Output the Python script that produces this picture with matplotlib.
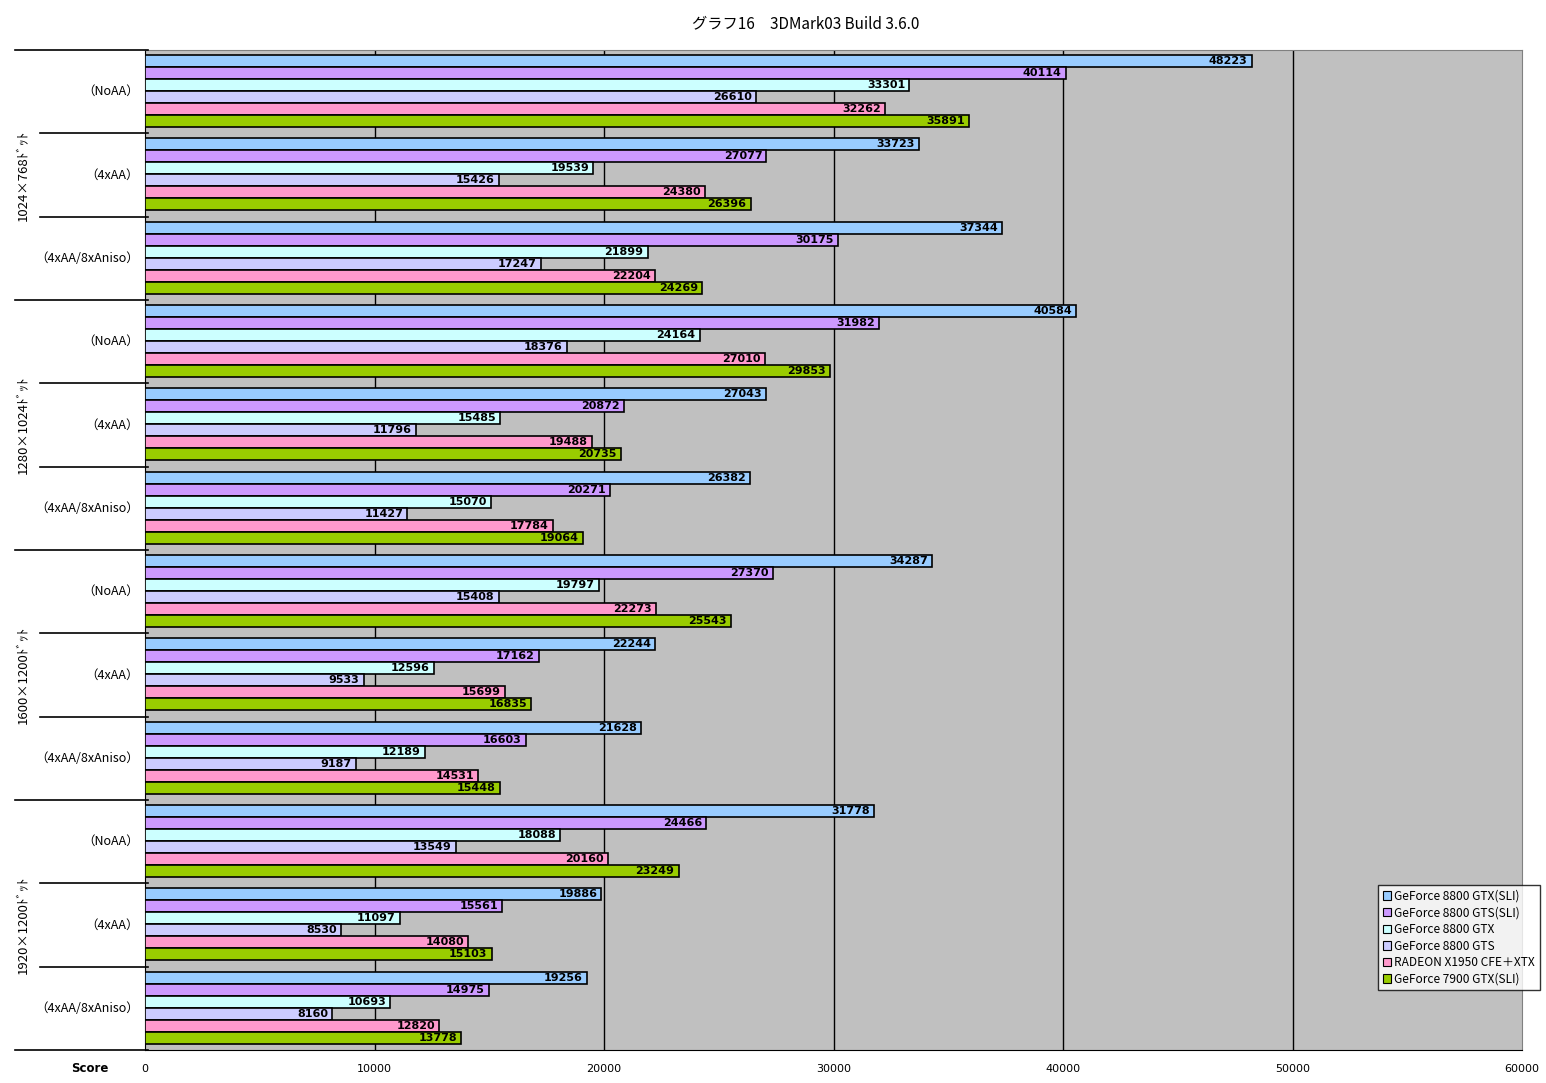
import matplotlib
matplotlib.use("Agg")
import matplotlib.pyplot as plt
import matplotlib.transforms as mtransforms
from matplotlib.patches import Patch

plt.rcParams['font.family'] = ['Noto Sans CJK JP', 'DejaVu Sans']

title = "グラフ16　3DMark03 Build 3.6.0"
resolutions = ["1024×768ﾄﾞｯﾄ", "1280×1024ﾄﾞｯﾄ", "1600×1200ﾄﾞｯﾄ", "1920×1200ﾄﾞｯﾄ"]
settings = ["（NoAA）", "（4xAA）", "（4xAA/8xAniso）"]
series = ["GeForce 8800 GTX(SLI)", "GeForce 8800 GTS(SLI)", "GeForce 8800 GTX",
          "GeForce 8800 GTS", "RADEON X1950 CFE＋XTX", "GeForce 7900 GTX(SLI)"]
colors = ["#99CCFF", "#CC99FF", "#CCFFFF", "#CCCCFF", "#FF99CC", "#99CC00"]

# values per group (resolution x setting), order of series
gtx_sli = [48223, 33723, 37344, 40584, 27043, 26382, 34287, 22244, 21628, 31778, 19886, 19256]
gts_sli = [40114, 27077, 30175, 31982, 20872, 20271, 27370, 17162, 16603, 24466, 15561, 14975]
gtx     = [33301, 19539, 21899, 24164, 15485, 15070, 19797, 12596, 12189, 18088, 11097, 10693]
gts     = [26610, 15426, 17247, 18376, 11796, 11427, 15408, 9533, 9187, 13549, 8530, 8160]
radeon  = [32262, 24380, 22204, 27010, 19488, 17784, 22273, 15699, 14531, 20160, 14080, 12820]
g7900   = [35891, 26396, 24269, 29853, 20735, 19064, 25543, 16835, 15448, 23249, 15103, 13778]
all_series = [gtx_sli, gts_sli, gtx, gts, radeon, g7900]
xticks = [0, 10000, 20000, 30000, 40000, 50000, 60000]

W, H = 1546, 1083
fig = plt.figure(figsize=(W / 100, H / 100), dpi=100)
L, R, T, B = 145, 1522, 50, 1050
ax = fig.add_axes([L / W, 1 - B / H, (R - L) / W, (B - T) / H])
ax.set_facecolor("#C0C0C0")

ngroups = len(gtx_sli)
bh = 12 / 83.33
top_off = 5 / 83.33
for k, (vals, c) in enumerate(zip(all_series, colors)):
    ys = [g + top_off + (k + 0.5) * bh for g in range(ngroups)]
    ax.barh(ys, vals, height=bh, color=c, edgecolor="black", linewidth=1.2, zorder=3)
    for y, v in zip(ys, vals):
        ax.annotate(f"{v}", xy=(v, y), xytext=(-3, 0), textcoords="offset points",
                    ha="right", va="center", fontsize=8, fontweight="bold",
                    family="DejaVu Sans", zorder=4)

ax.set_xlim(0, 60000)
ax.set_ylim(ngroups, 0)
for x in xticks[1:-1]:
    ax.axvline(x, color="black", linewidth=1.0, zorder=1)

ax.set_yticks([])
ax.set_xticks(xticks)
ax.set_xticklabels([str(x) for x in xticks], fontsize=8, family="DejaVu Sans")
ax.tick_params(axis="x", length=0, pad=10)
ax.spines["left"].set_color("black")
ax.spines["bottom"].set_color("black")
ax.spines["top"].set_color("#808080")
ax.spines["right"].set_color("#808080")

trans = mtransforms.blended_transform_factory(ax.transAxes, ax.transData)
axw = R - L
for g in range(ngroups + 1):
    x0 = (15 - L) / axw if g % 3 == 0 else (40 - L) / axw
    ax.plot([x0, 3 / axw], [g, g], color="black", linewidth=1.2, transform=trans,
            clip_on=False, zorder=5)

for g in range(ngroups):
    ax.text((139 - L) / axw, g + 0.5, settings[g % 3], transform=trans,
            ha="right", va="center", fontsize=9)

for r, lab in enumerate(resolutions):
    ax.text((23 - L) / axw, r * 3 + 1.5, lab, transform=trans, rotation=90,
            ha="center", va="center", fontsize=9.5)

fig.text(90 / W, 1 - 1068 / H, "Score", ha="center", va="center", fontsize=8.5,
         fontweight="bold", family="DejaVu Sans")
fig.text(806 / W, 1 - 24 / H, title, ha="center", va="center", fontsize=11)

handles = [Patch(facecolor=c, edgecolor="black", linewidth=0.8) for c in colors]
leg = fig.legend(handles, series, loc="upper right", bbox_to_anchor=(1540 / W, 1 - 885 / H),
                 fontsize=8.6, frameon=True, fancybox=False, edgecolor="black",
                 handlelength=0.7, handleheight=0.7, handletextpad=0.3,
                 labelspacing=0.3, borderpad=0.4, borderaxespad=0)
leg.get_frame().set_linewidth(1.0)
leg.get_frame().set_facecolor("white")

fig.savefig("out.png", dpi=100, facecolor="white")
